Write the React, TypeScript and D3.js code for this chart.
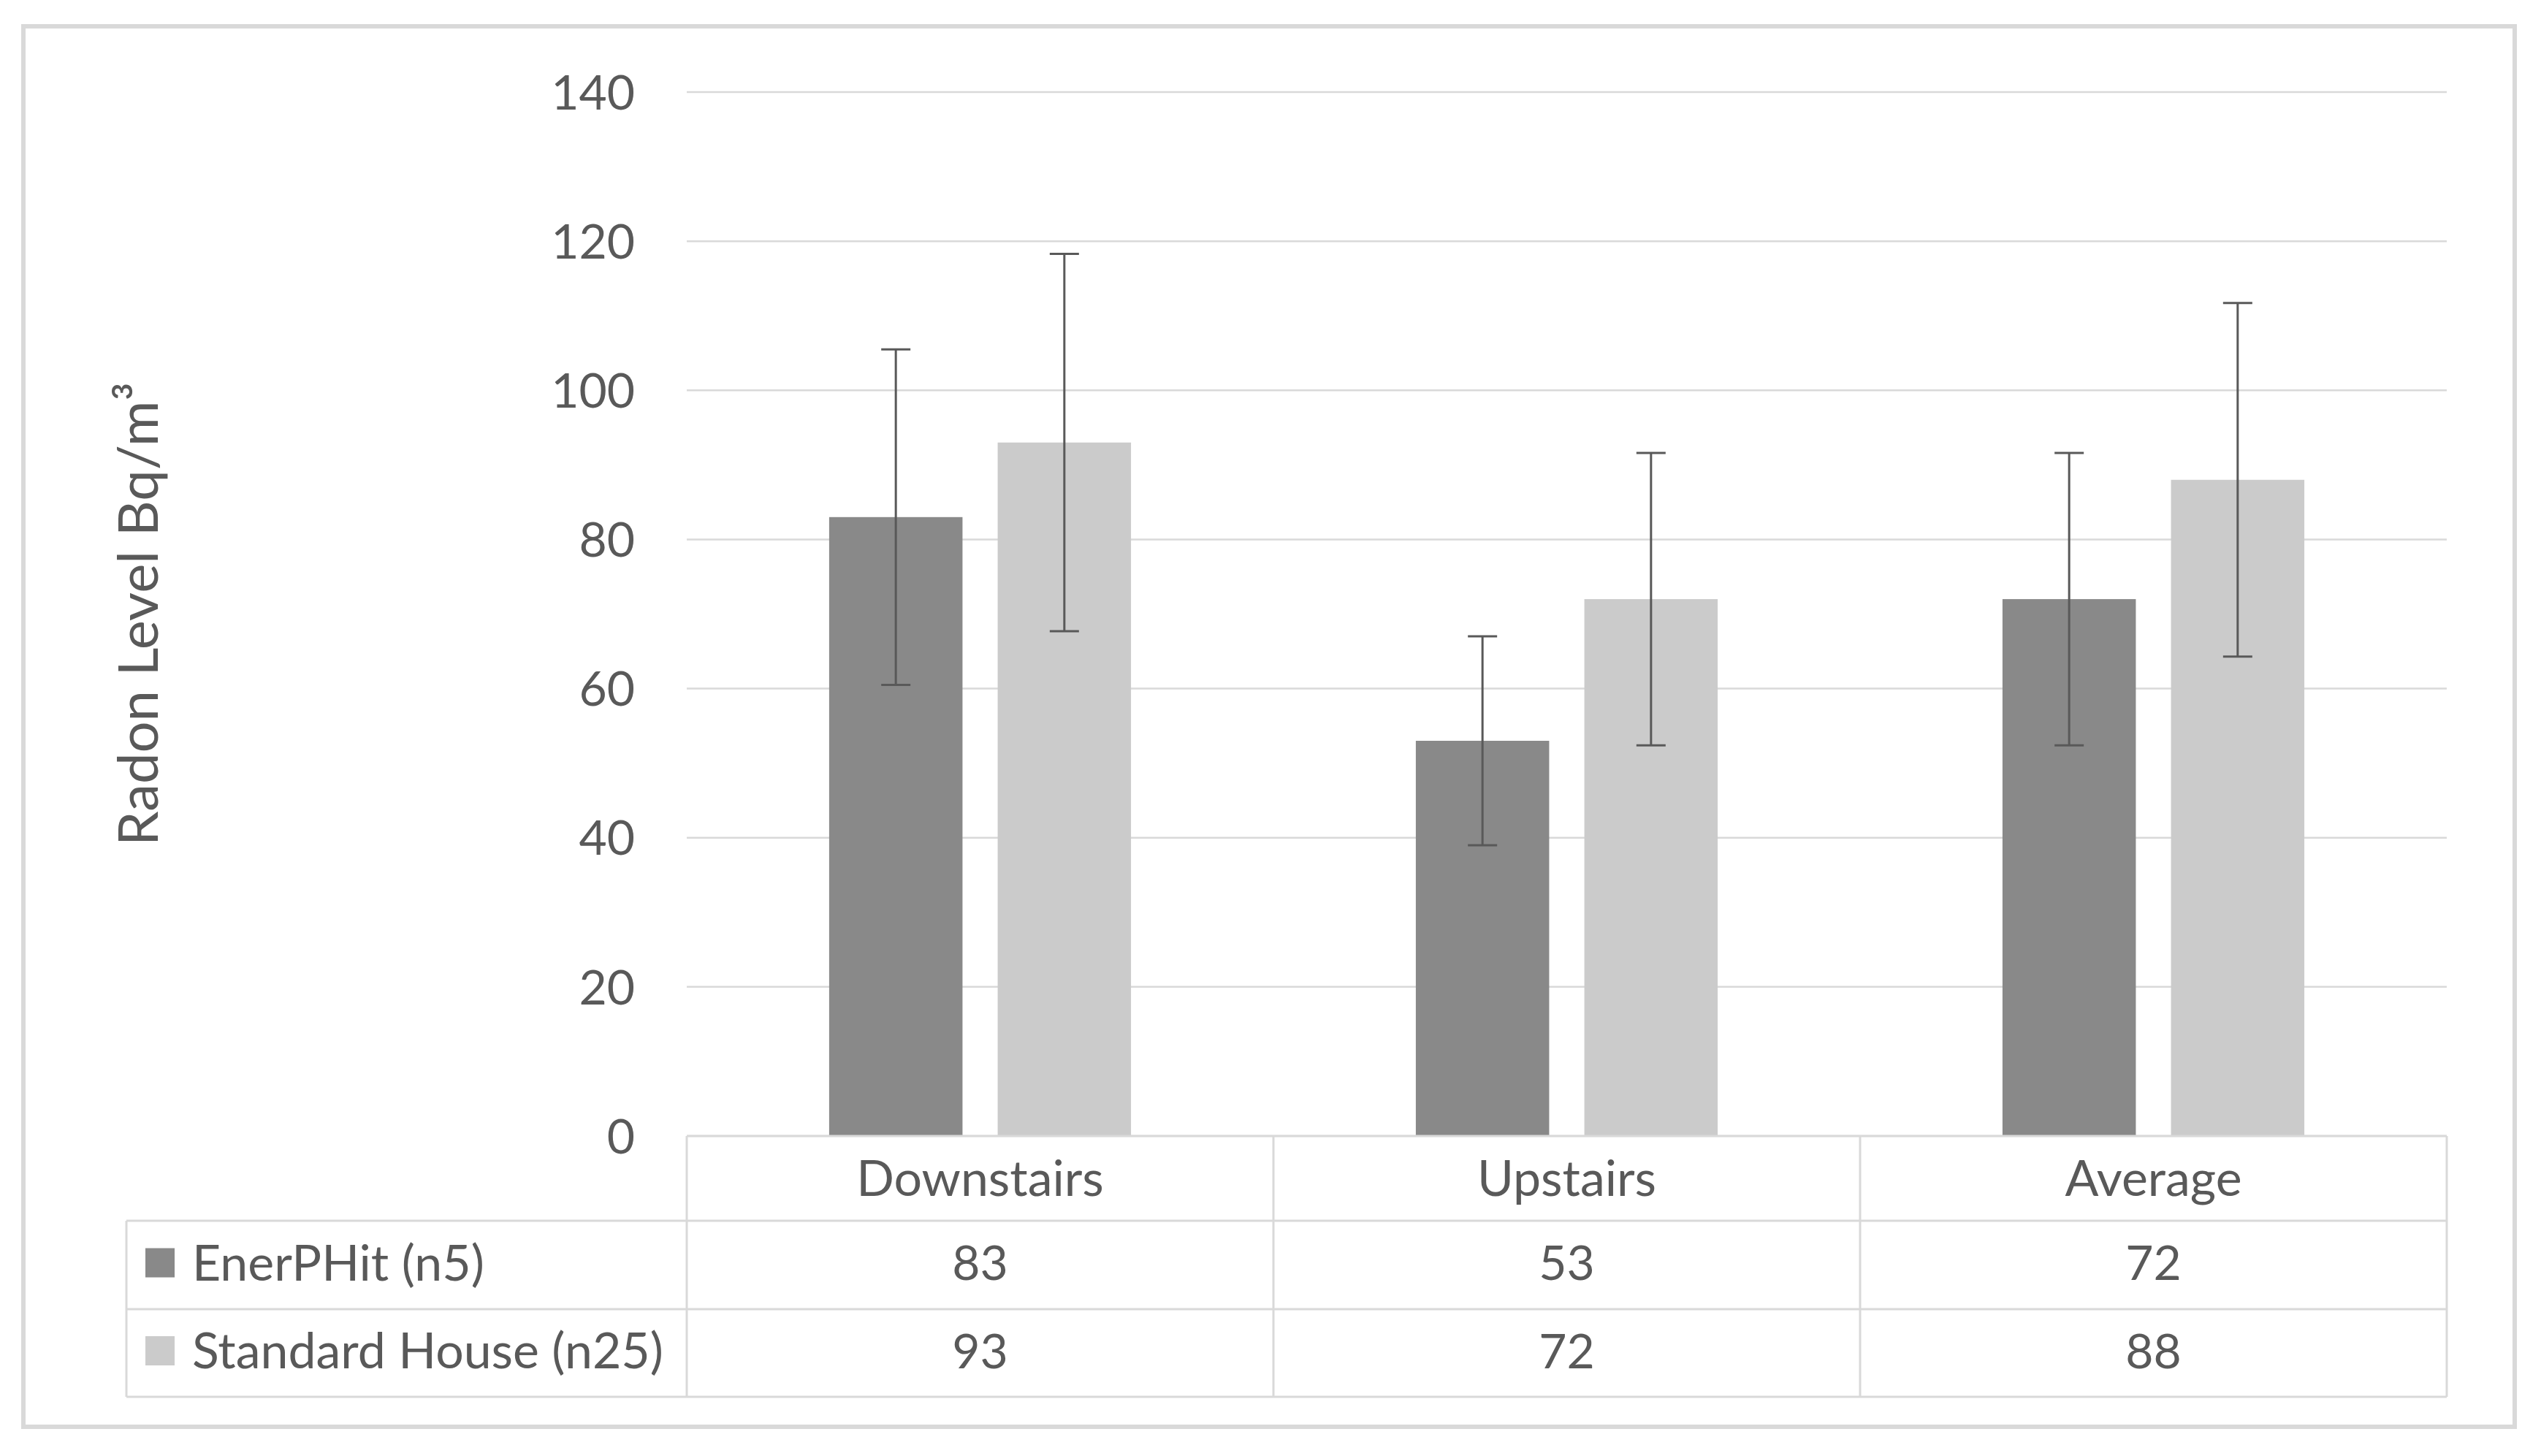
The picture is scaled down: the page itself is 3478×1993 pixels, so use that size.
import React from "react";
import * as d3 from "d3";

const categories = ["Downstairs", "Upstairs", "Average"];
const seriesNames = ["EnerPHit (n5)", "Standard House (n25)"];
const enerphit = [83, 53, 72];
const standard = [93, 72, 88];
const enerphitErr = [22.5, 14, 19.6];
const standardErr = [25.3, 19.6, 23.7];
const yTicks = [0, 20, 40, 60, 80, 100, 120, 140];

const seriesValues = [enerphit, standard];
const seriesErrs = [enerphitErr, standardErr];
const seriesColors = ["#898989", "#CBCBCB"];

const W = 3478;
const H = 1993;
const plotLeft = 940;
const plotRight = 3349;
const plotTop = 126;
const plotBottom = 1555;
const tableLeft = 173;
const rowBounds = [1555, 1671, 1792, 1912];
const FONT = "Lato, 'Open Sans', sans-serif";
const TEXT = "#595959";
const GRID = "#D9D9D9";
const FS = 66;
const FS_TABLE = 68;

export default function App() {
  const x0 = d3.scaleBand<string>().domain(categories).range([plotLeft, plotRight]).padding(0);
  const x1 = d3
    .scaleBand<string>()
    .domain(seriesNames)
    .range([0, x0.bandwidth()])
    .paddingInner(0.2087)
    .paddingOuter(0.845);
  const y = d3.scaleLinear().domain([0, 140]).range([plotBottom, plotTop]);
  const capW = 40;

  const colEdges = [plotLeft, ...categories.map((c) => (x0(c) as number) + x0.bandwidth())];

  return (
    <svg
      width={W}
      height={H}
      style={{ position: "absolute", left: 0, top: 0, background: "#fff" }}
      fontFamily={FONT}
    >
      <rect x={0} y={0} width={W} height={H} fill="#fff" />
      {/* outer border */}
      <rect x={32} y={36} width={3410} height={1917} fill="none" stroke={GRID} strokeWidth={6} />

      {/* gridlines */}
      {yTicks.map((t) => (
        <line key={t} x1={plotLeft} x2={plotRight} y1={y(t)} y2={y(t)} stroke={GRID} strokeWidth={2.5} />
      ))}
      {/* y tick labels */}
      {yTicks.map((t) => (
        <text key={"l" + t} x={869} y={y(t)} dy="0.36em" textAnchor="end" fontSize={FS} fill={TEXT}>
          {t}
        </text>
      ))}

      {/* y axis title */}
      <text
        transform={`translate(216, ${(plotTop + plotBottom) / 2}) rotate(-90)`}
        textAnchor="middle"
        fontSize={76}
        fill={TEXT}
      >
        Radon Level Bq/m³
      </text>

      {/* bars */}
      {seriesNames.map((s, si) =>
        categories.map((c, ci) => {
          const bx = (x0(c) as number) + (x1(s) as number);
          const v = seriesValues[si][ci];
          return (
            <rect
              key={s + c}
              x={bx}
              y={y(v)}
              width={x1.bandwidth()}
              height={y(0) - y(v)}
              fill={seriesColors[si]}
            />
          );
        })
      )}

      {/* error bars */}
      {seriesNames.map((s, si) =>
        categories.map((c, ci) => {
          const cx = (x0(c) as number) + (x1(s) as number) + x1.bandwidth() / 2;
          const v = seriesValues[si][ci];
          const e = seriesErrs[si][ci];
          const yt = y(v + e);
          const yb = y(v - e);
          return (
            <g key={"e" + s + c} stroke="#595959" strokeWidth={3}>
              <line x1={cx} x2={cx} y1={yt} y2={yb} />
              <line x1={cx - capW / 2} x2={cx + capW / 2} y1={yt} y2={yt} />
              <line x1={cx - capW / 2} x2={cx + capW / 2} y1={yb} y2={yb} />
            </g>
          );
        })
      )}

      {/* data table lines */}
      <g stroke={GRID} strokeWidth={3} fill="none">
        <line x1={plotLeft} x2={plotRight} y1={rowBounds[0]} y2={rowBounds[0]} />
        {rowBounds.slice(1).map((ry) => (
          <line key={ry} x1={tableLeft} x2={plotRight} y1={ry} y2={ry} />
        ))}
        <line x1={tableLeft} x2={tableLeft} y1={rowBounds[1]} y2={rowBounds[3]} />
        {colEdges.map((cx) => (
          <line key={cx} x1={cx} x2={cx} y1={rowBounds[0]} y2={rowBounds[3]} />
        ))}
      </g>

      {/* header labels */}
      {categories.map((c) => (
        <text
          key={"h" + c}
          x={(x0(c) as number) + x0.bandwidth() / 2}
          y={(rowBounds[0] + rowBounds[1]) / 2}
          dy="0.36em"
          textAnchor="middle"
          fontSize={FS_TABLE}
          fill={TEXT}
        >
          {c}
        </text>
      ))}

      {/* series rows */}
      {seriesNames.map((s, si) => {
        const cy = (rowBounds[si + 1] + rowBounds[si + 2]) / 2 - 3;
        return (
          <g key={"r" + s}>
            <rect x={199} y={cy - 20} width={40} height={40} fill={seriesColors[si]} />
            <text x={263} y={cy} dy="0.36em" fontSize={FS_TABLE} fill={TEXT}>
              {s}
            </text>
            {categories.map((c, ci) => (
              <text
                key={c}
                x={(x0(c) as number) + x0.bandwidth() / 2}
                y={cy}
                dy="0.36em"
                textAnchor="middle"
                fontSize={FS}
                fill={TEXT}
              >
                {seriesValues[si][ci]}
              </text>
            ))}
          </g>
        );
      })}
    </svg>
  );
}
